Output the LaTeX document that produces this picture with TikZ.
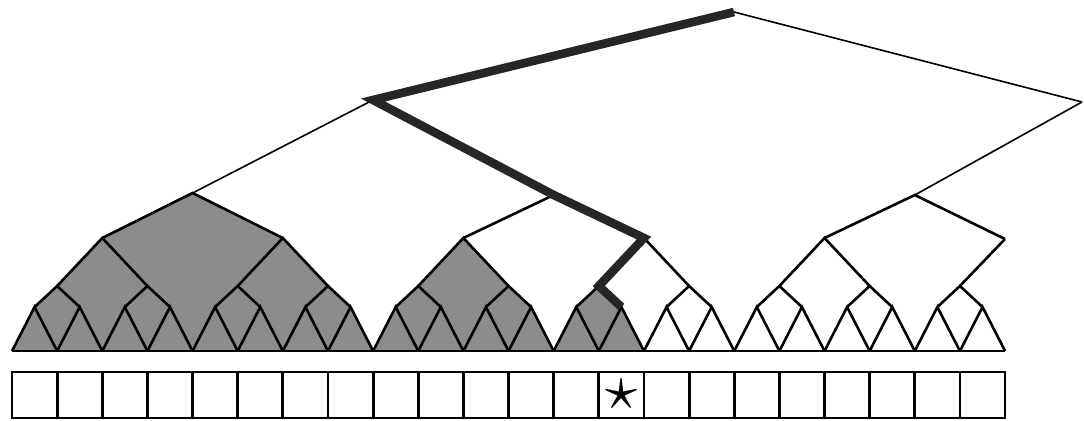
\documentclass[tikz,border=0pt]{standalone}
\begin{document}
\begin{tikzpicture}[x=0.5pt, y=-0.5pt,
    twig/.style={line width=1.3pt},
    upper/.style={line width=0.8pt},
    route/.style={line width=4.3pt, black!85},
    shade/.style={fill=black!45},
    cell/.style={draw, line width=1.4pt, minimum width=22.57pt, minimum height=23pt, inner sep=0pt}]
\useasboundingbox (0,0) rectangle (1084,420);
% leaves and inner levels
\foreach \i in {0,...,22} \coordinate (l\i) at ({12+45.14*\i},351);
\foreach \i in {0,...,21} \coordinate (a\i) at ({34.57+45.14*\i},307);
\foreach \i in {0,...,10} \coordinate (b\i) at ({57.14+90.28*\i},286);
\foreach \i in {0,...,4} \coordinate (c\i) at ({102.28+180.56*\i},238);
\coordinate (c5) at (1005,239);
\coordinate (d0) at (192.6,193);
\coordinate (d1) at (553.7,195);
\coordinate (d2) at (914.8,195);
\coordinate (e0) at (373,100);
\coordinate (e1) at (1082,102);
\coordinate (r) at (734,12);
% shaded subtrees
\fill[shade] (l0) -- (a0) -- (b0) -- (c0) -- (d0) -- (c1) -- (b3) -- (a7) -- (l8) -- cycle;
\fill[shade] (l8) -- (a8) -- (b4) -- (c2) -- (b5) -- (a11) -- (l12) -- cycle;
\fill[shade] (l12) -- (a12) -- (b6) -- (a13) -- (l14) -- cycle;
% edges
\draw[twig] (l0) -- (l22);
\foreach \i [evaluate=\i as \j using int(\i+1)] in {0,...,21}
  \draw[twig] (l\i) -- (a\i) -- (l\j);
\foreach \k [evaluate=\k as \p using int(2*\k), evaluate=\k as \q using int(2*\k+1)] in {0,...,10}
  \draw[twig] (a\p) -- (b\k) -- (a\q);
\foreach \k [evaluate=\k as \p using int(2*\k), evaluate=\k as \q using int(2*\k+1)] in {0,...,4}
  \draw[twig] (b\p) -- (c\k) -- (b\q);
\draw[twig] (c5) -- (b10);
\draw[twig] (c0) -- (d0) -- (c1);
\draw[twig] (c2) -- (d1) -- (c3);
\draw[twig] (c4) -- (d2) -- (c5);
\draw[upper] (d0) -- (e0) -- (d1);
\draw[upper] (e1) -- (d2);
\draw[upper] (e0) -- (r) -- (e1);
% search path
\draw[route] (r) -- (e0) -- (d1) -- (c3) -- (b6) -- (a13);
% array
\foreach \i in {0,...,21}
  \node[cell] (s\i) at ({34.57+45.14*\i},395) {};
\node[scale=3.2, inner sep=0pt] (goal) at (s13) {$\star$};
\end{tikzpicture}
\end{document}
